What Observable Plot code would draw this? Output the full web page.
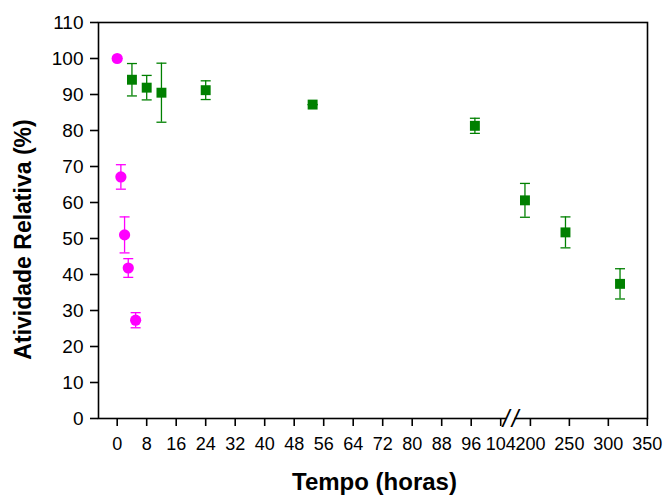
<!DOCTYPE html>
<html>
<head>
<meta charset="utf-8">
<script src="https://cdn.jsdelivr.net/npm/d3@7"></script>
<script src="https://cdn.jsdelivr.net/npm/@observablehq/plot@0.6"></script>
<style>
  html, body { margin: 0; padding: 0; background: #fff; }
  #chart svg { font-family: "Liberation Sans", Arial, sans-serif; }
</style>
</head>
<body>
<div id="chart"></div>
<script>
// Series A (magenta circles)
const magentaTime = [0, 1, 2, 3, 5];
const magentaValue = [100, 67.1, 51, 41.8, 27.3];
const magentaErr = [0, 3.4, 5, 2.6, 2.1];

// Series B (green squares)
const greenTime = [4, 8, 12, 24, 53, 97, 193, 245, 315];
const greenValue = [94.1, 91.9, 90.5, 91.2, 87.2, 81.3, 60.6, 51.7, 37.4];
const greenErr = [4.5, 3.4, 8.2, 2.6, 0, 2.1, 4.7, 4.3, 4.2];

// Axis ticks
const xTicks = [0, 8, 16, 24, 32, 40, 48, 56, 64, 72, 80, 88, 96, 104, 200, 250, 300, 350];
const yTicks = [0, 10, 20, 30, 40, 50, 60, 70, 80, 90, 100, 110];

// Broken axis definition: [start, break start, break end, end]
const xBreak = [-5.07, 104, 186, 350];

const toRows = (t, v, e) => t.map((d, i) => ({t: d, v: v[i], lo: v[i] - e[i], hi: v[i] + e[i]}));
const magenta = toRows(magentaTime, magentaValue, magentaErr);
const green = toRows(greenTime, greenValue, greenErr);

const capSymbol = {
  draw(ctx) { ctx.moveTo(-5, 0); ctx.lineTo(5, 0); }
};

const MAG = "#ff00ff";
const GRN = "#008000";
const breakMid = () => (xBreak[1] + xBreak[2]) / 2;

const chart = Plot.plot({
  width: 665,
  height: 495,
  marginLeft: 98,
  marginRight: 18,
  marginTop: 22,
  marginBottom: 77,
  style: {fontFamily: "Liberation Sans, Arial, sans-serif", fontSize: "18px", color: "#000"},
  x: {type: "linear", domain: xBreak, range: [98, 500.2, 519, 646.8]},
  y: {domain: [0, 110]},
  marks: [
    Plot.frame({stroke: "#000", strokeWidth: 1.6}),
    Plot.rect([0], {x1: () => xBreak[1], x2: () => xBreak[2], y1: -1.2, y2: 1.2, fill: "white", insetLeft: 6, insetRight: 4.5}),
    Plot.axisY({ticks: yTicks, tickSize: 8, tickPadding: 7, label: null, fontSize: 19, strokeWidth: 1.6}),
    Plot.axisX({ticks: xTicks, tickSize: 8, tickPadding: 11, label: null, fontSize: 18, strokeWidth: 1.6, tickFormat: d => String(d)}),
    Plot.text(["/"], {x: breakMid, y: 0, text: d => d, dx: -4, dy: 1, fontSize: 24, fontStyle: "italic", lineAnchor: "middle", fill: "#000"}),
    Plot.text(["/"], {x: breakMid, y: 0, text: d => d, dx: 5, dy: 1, fontSize: 24, fontStyle: "italic", lineAnchor: "middle", fill: "#000"}),
    // error bars
    Plot.ruleX(green, {x: "t", y1: "lo", y2: "hi", stroke: GRN, strokeWidth: 1.3}),
    Plot.dot(green, {x: "t", y: "hi", symbol: capSymbol, stroke: GRN, strokeWidth: 1.3, r: 5}),
    Plot.dot(green, {x: "t", y: "lo", symbol: capSymbol, stroke: GRN, strokeWidth: 1.3, r: 5}),
    Plot.ruleX(magenta, {x: "t", y1: "lo", y2: "hi", stroke: MAG, strokeWidth: 1.3}),
    Plot.dot(magenta, {x: "t", y: "hi", symbol: capSymbol, stroke: MAG, strokeWidth: 1.3, r: 5}),
    Plot.dot(magenta, {x: "t", y: "lo", symbol: capSymbol, stroke: MAG, strokeWidth: 1.3, r: 5}),
    // points
    Plot.dot(green, {x: "t", y: "v", symbol: "square", r: 5.6, fill: GRN, stroke: "none"}),
    Plot.dot(magenta, {x: "t", y: "v", symbol: "circle", r: 5.6, fill: MAG, stroke: "none"}),
    // axis titles
    Plot.text(["Tempo (horas)"], {frameAnchor: "bottom", text: d => d, dy: 64, dx: 1.5, textAnchor: "middle", lineAnchor: "middle", fontSize: 24, fontWeight: "bold", fill: "#000"}),
    Plot.text(["Atividade Relativa (%)"], {frameAnchor: "left", text: d => d, rotate: -90, dx: -75, dy: 19, textAnchor: "middle", lineAnchor: "middle", fontSize: 23, fontWeight: "bold", fill: "#000"})
  ]
});
document.getElementById("chart").appendChild(chart);
</script>
</body>
</html>
